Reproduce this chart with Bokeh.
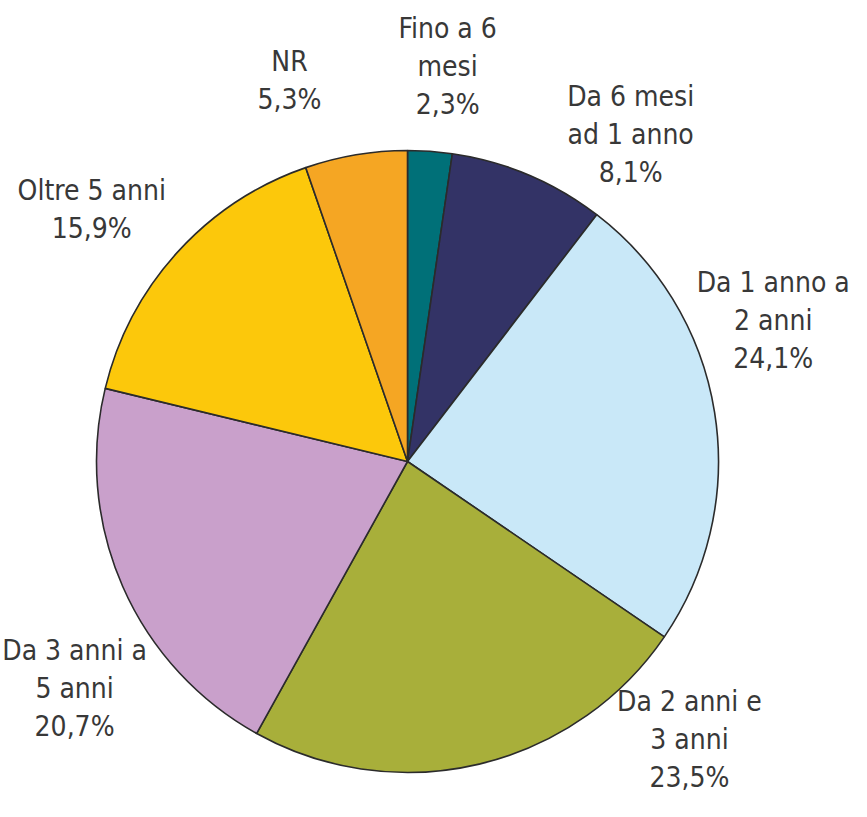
import math
from bokeh.plotting import figure
from bokeh.models import ColumnDataSource
from bokeh.core.properties import value
from bokeh.embed import file_html
from bokeh.resources import INLINE

# ---- data ----
categories = ["Fino a 6 mesi", "Da 6 mesi ad 1 anno", "Da 1 anno a 2 anni",
              "Da 2 anni e 3 anni", "Da 3 anni a 5 anni", "Oltre 5 anni", "NR"]
label_lines = [["Fino a 6", "mesi"], ["Da 6 mesi", "ad 1 anno"], ["Da 1 anno a", "2 anni"],
               ["Da 2 anni e", "3 anni"], ["Da 3 anni a", "5 anni"], ["Oltre 5 anni"], ["NR"]]
percentages = [2.3, 8.1, 24.1, 23.5, 20.7, 15.9, 5.3]
colors = ["#007078", "#333366", "#C9E8F8", "#A8AF3A", "#C9A0CB", "#FCC80B", "#F5A623"]

# ---- layout (label placement, clockwise degrees from top, and distance in px) ----
label_angle = [5.8, 34.3, 68.9, 134.6, 235.7, 308.6, 342.8]
label_dist = [397, 396, 392, 396, 403, 404, 399]

W, H = 851, 801
cx, cy = 407, H - 461
R = 311
font = "'DejaVu Sans Condensed', 'DejaVu Sans', sans-serif"
fsize = "28px"
line_h = 38

total = sum(percentages)
starts, ends = [], []
cum = 0.0
for v in percentages:
    starts.append(math.radians(90 - 360 * cum / total))
    cum += v
    ends.append(math.radians(90 - 360 * cum / total))

src = ColumnDataSource(dict(x=[cx] * len(percentages), y=[cy] * len(percentages),
                            start=starts, end=ends, color=colors, cat=categories))

p = figure(width=W, height=H, x_range=(0, W), y_range=(0, H),
           output_backend="svg", toolbar_location=None, min_border=0,
           outline_line_color=None)
p.axis.visible = False
p.grid.visible = False

p.wedge(x="x", y="y", radius=R, start_angle="start", end_angle="end", direction="clock",
        fill_color="color", line_color="#2b2b2b", line_width=1.6, source=src)

tx, ty, tt = [], [], []
for lines, v, a, d in zip(label_lines, percentages, label_angle, label_dist):
    allines = lines + [f"{v:.1f}".replace(".", ",") + "%"]
    bx = cx + d * math.sin(math.radians(a))
    by = cy + d * math.cos(math.radians(a))
    n = len(allines)
    for i, s in enumerate(allines):
        tx.append(bx)
        ty.append(by - (i - (n - 1) / 2) * line_h)
        tt.append(s)

p.text(x=tx, y=ty, text=tt, text_align="center", text_baseline="middle",
       text_font=value(font), text_font_size=fsize, text_color="#383838")

open("out.html", "w").write(file_html(p, INLINE))
